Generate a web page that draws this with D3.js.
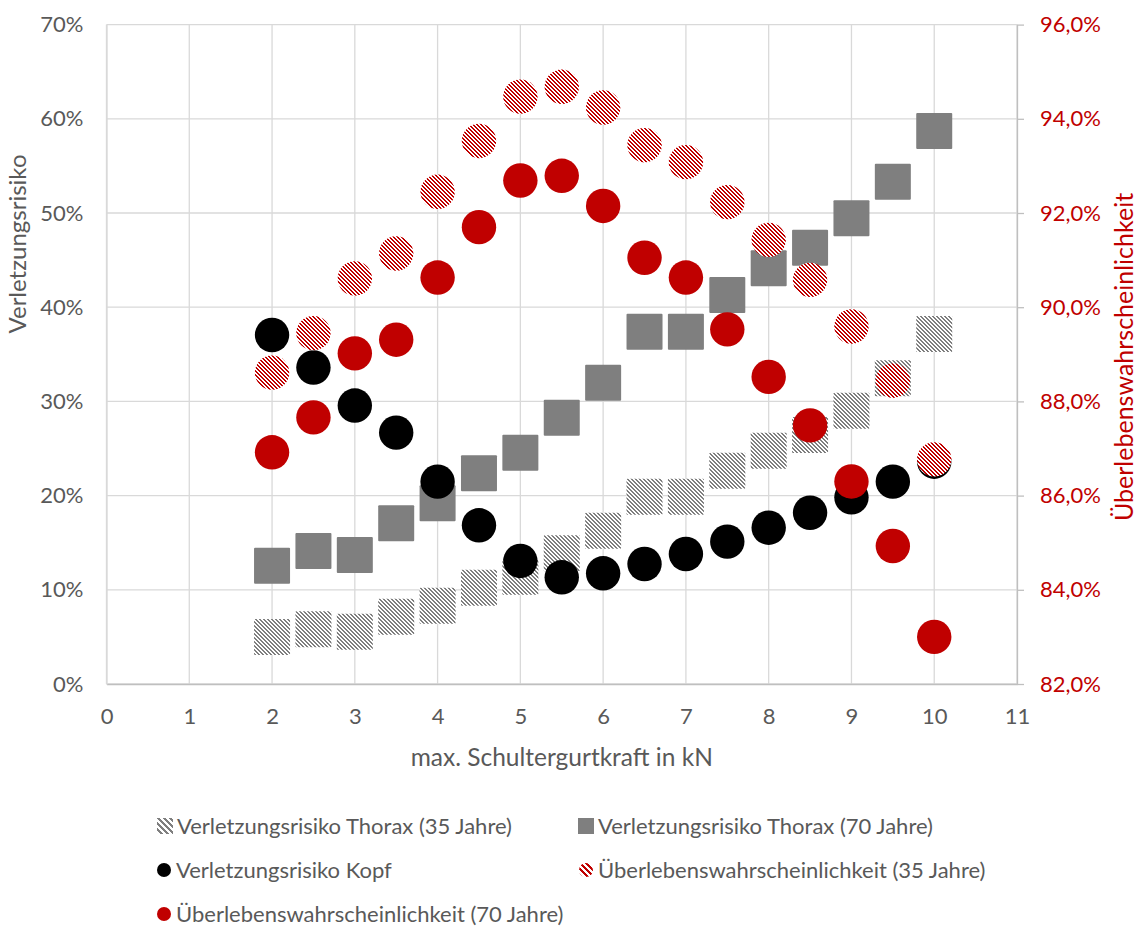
<!DOCTYPE html>
<html>
<head>
<meta charset="utf-8">
<script src="https://cdn.jsdelivr.net/npm/d3@7"></script>
<style>
  body { margin: 0; background: #ffffff; }
  text { font-family: "Lato", "Open Sans", sans-serif; }
</style>
</head>
<body>
<svg id="chart" width="1137" height="926"></svg>
<script>
// max. Schultergurtkraft (kN)
const kraft = [2, 2.5, 3, 3.5, 4, 4.5, 5, 5.5, 6, 6.5, 7, 7.5, 8, 8.5, 9, 9.5, 10];

// Verletzungsrisiko (left axis, fraction)
const thorax35 = [0.050, 0.058, 0.0555, 0.0714, 0.0831, 0.1022, 0.1139, 0.1387, 0.1627, 0.1988, 0.1988, 0.2264, 0.2477, 0.2643, 0.2901, 0.3245, 0.3715];
const thorax70 = [0.1256, 0.1412, 0.1369, 0.1706, 0.1918, 0.2237, 0.2455, 0.2827, 0.3199, 0.3740, 0.3740, 0.4130, 0.4413, 0.4632, 0.4944, 0.5332, 0.5870];
const kopf     = [0.3705, 0.3360, 0.2956, 0.2668, 0.2148, 0.1685, 0.1306, 0.1133, 0.1175, 0.1274, 0.1380, 0.1511, 0.1659, 0.1818, 0.1982, 0.2148, 0.2360];

// Überlebenswahrscheinlichkeit (right axis, percent)
const ueberleben35 = [88.61, 89.45, 90.61, 91.14, 92.45, 93.53, 94.47, 94.68, 94.24, 93.44, 93.08, 92.23, 91.43, 90.58, 89.59, 88.44, 86.77];
const ueberleben70 = [86.92, 87.66, 89.02, 89.31, 90.63, 91.70, 92.69, 92.79, 92.15, 91.05, 90.63, 89.53, 88.52, 87.49, 86.30, 84.93, 83.00];

// Axis ticks
const xTicks = [0, 1, 2, 3, 4, 5, 6, 7, 8, 9, 10, 11];
const leftTicks = [0, 0.1, 0.2, 0.3, 0.4, 0.5, 0.6, 0.7];
const rightTicks = [82, 84, 86, 88, 90, 92, 94, 96];

// Texts
const xTitle = "max. Schultergurtkraft in kN";
const leftTitle = "Verletzungsrisiko";
const rightTitle = "Überlebenswahrscheinlichkeit";
const seriesNames = [
  "Verletzungsrisiko Thorax (35 Jahre)",
  "Verletzungsrisiko Thorax (70 Jahre)",
  "Verletzungsrisiko Kopf",
  "Überlebenswahrscheinlichkeit (35 Jahre)",
  "Überlebenswahrscheinlichkeit (70 Jahre)"
];

const grey = "#595959";
const red = "#c00000";
const markerGrey = "#7f7f7f";

const svg = d3.select("#chart");
const plot = { left: 106.5, right: 1017, top: 24.6, bottom: 684 };

const x = d3.scaleLinear().domain([0, 11]).range([plot.left, plot.right]);
const yL = d3.scaleLinear().domain([0, 0.7]).range([plot.bottom, plot.top]);
const yR = d3.scaleLinear().domain([82, 96]).range([plot.bottom, plot.top]);

const de = d3.formatLocale({ decimal: ",", thousands: ".", grouping: [3], currency: ["", " €"] });
const fmtRight = v => de.format(".1f")(v) + "%";
const fmtLeft = d3.format(".0%");

// Pixel-aligned downward diagonal stripe patterns: each row shifts one pixel right
const defs = svg.append("defs");
function stripes(id, color, size) {
  const p = defs.append("pattern")
    .attr("id", id)
    .attr("patternUnits", "userSpaceOnUse")
    .attr("width", size).attr("height", size);
  p.append("rect").attr("width", size).attr("height", size).attr("fill", "#ffffff");
  const half = size / 2;
  const cells = [];
  for (let r = 0; r < size; r++) {
    for (let k = 0; k < half; k++) cells.push([(r + k) % size, r]);
  }
  p.selectAll("rect.px").data(cells).join("rect")
    .attr("class", "px")
    .attr("x", d => d[0]).attr("y", d => d[1])
    .attr("width", 1).attr("height", 1)
    .attr("fill", color)
    .attr("shape-rendering", "crispEdges");
}
stripes("stripeGrey", markerGrey, 4);
stripes("stripeRed", red, 4);
stripes("stripeGreyLegend", markerGrey, 6);
stripes("stripeRedLegend", red, 6);

// Gridlines
svg.append("g").selectAll("line").data(leftTicks).join("line")
  .attr("x1", plot.left).attr("x2", plot.right)
  .attr("y1", d => yL(d)).attr("y2", d => yL(d))
  .attr("stroke", "#d9d9d9").attr("stroke-width", 1.3);
svg.append("g").selectAll("line").data(xTicks).join("line")
  .attr("x1", d => x(d)).attr("x2", d => x(d))
  .attr("y1", plot.top).attr("y2", plot.bottom)
  .attr("stroke", "#d9d9d9").attr("stroke-width", 1.3);

// Bottom axis
const gx = svg.append("g").attr("transform", `translate(0,${plot.bottom})`)
  .call(d3.axisBottom(x).tickValues(xTicks).tickSize(0).tickFormat(d3.format("d")));
gx.select(".domain").attr("stroke", "#bfbfbf").attr("stroke-width", 1.3);
gx.selectAll("text").attr("y", 32).attr("dy", "0.35em")
  .attr("fill", grey).style("font-size", "22px").style("font-family", "Lato");

// Left axis
const gl = svg.append("g").attr("transform", `translate(${plot.left},0)`)
  .call(d3.axisLeft(yL).tickValues(leftTicks).tickSize(0).tickPadding(23).tickFormat(fmtLeft));
gl.select(".domain").attr("stroke", "#d9d9d9").attr("stroke-width", 1.3);
gl.selectAll("text").attr("fill", grey).style("font-size", "22px").style("font-family", "Lato");

// Right axis
const gr = svg.append("g").attr("transform", `translate(${plot.right},0)`)
  .call(d3.axisRight(yR).tickValues(rightTicks).tickSize(7).tickSizeOuter(0).tickPadding(16).tickFormat(fmtRight));
gr.select(".domain").attr("stroke", "#bfbfbf").attr("stroke-width", 1.3);
gr.selectAll("line").attr("stroke", "#bfbfbf").attr("stroke-width", 1.3);
gr.selectAll("text").attr("fill", red).style("font-size", "22px").style("font-family", "Lato");

// Axis titles
svg.append("text").attr("x", (plot.left + plot.right) / 2).attr("y", 757).attr("dy", "0.35em")
  .attr("text-anchor", "middle").attr("fill", grey).style("font-size", "24.5px").text(xTitle);
svg.append("text").attr("transform", "translate(18,244) rotate(-90)").attr("dy", "0.35em")
  .attr("text-anchor", "middle").attr("fill", grey).style("font-size", "24px").text(leftTitle);
svg.append("text").attr("transform", "translate(1124,357) rotate(-90)").attr("dy", "0.35em")
  .attr("text-anchor", "middle").attr("fill", red).style("font-size", "25px").text(rightTitle);

// Markers
const SQ = 36, R = 17.2;
function squares(values, fill) {
  svg.append("g").selectAll("rect").data(kraft.map((k, i) => [k, values[i]])).join("rect")
    .attr("x", d => x(d[0]) - SQ / 2).attr("y", d => yL(d[1]) - SQ / 2)
    .attr("width", SQ).attr("height", SQ).attr("rx", 1)
    .attr("fill", fill);
}
function circles(values, scale, fill) {
  svg.append("g").selectAll("circle").data(kraft.map((k, i) => [k, values[i]])).join("circle")
    .attr("cx", d => x(d[0])).attr("cy", d => scale(d[1])).attr("r", R)
    .attr("fill", fill);
}
squares(thorax35, "url(#stripeGrey)");
squares(thorax70, markerGrey);
circles(kopf, yL, "#000000");
circles(ueberleben35, yR, "url(#stripeRed)");
circles(ueberleben70, yR, red);

// Legend
const legendItems = [
  { name: seriesNames[0], shape: "square", fill: "url(#stripeGreyLegend)", cx: 165, cy: 826 },
  { name: seriesNames[1], shape: "square", fill: markerGrey, cx: 586, cy: 826 },
  { name: seriesNames[2], shape: "circle", fill: "#000000", cx: 164, cy: 870 },
  { name: seriesNames[3], shape: "circle", fill: "url(#stripeRedLegend)", cx: 586, cy: 870 },
  { name: seriesNames[4], shape: "circle", fill: red, cx: 164, cy: 914 }
];
const lg = svg.append("g").selectAll("g").data(legendItems).join("g")
  .attr("transform", d => `translate(${d.cx},${d.cy})`);
lg.filter(d => d.shape === "square").append("rect")
  .attr("x", -8).attr("y", -8).attr("width", 16).attr("height", 16).attr("fill", d => d.fill);
lg.filter(d => d.shape === "circle").append("circle")
  .attr("r", 7).attr("fill", d => d.fill);
lg.append("text").attr("x", 12).attr("dy", "0.35em").attr("fill", grey)
  .style("font-size", "22px").text(d => d.name);
</script>
</body>
</html>
